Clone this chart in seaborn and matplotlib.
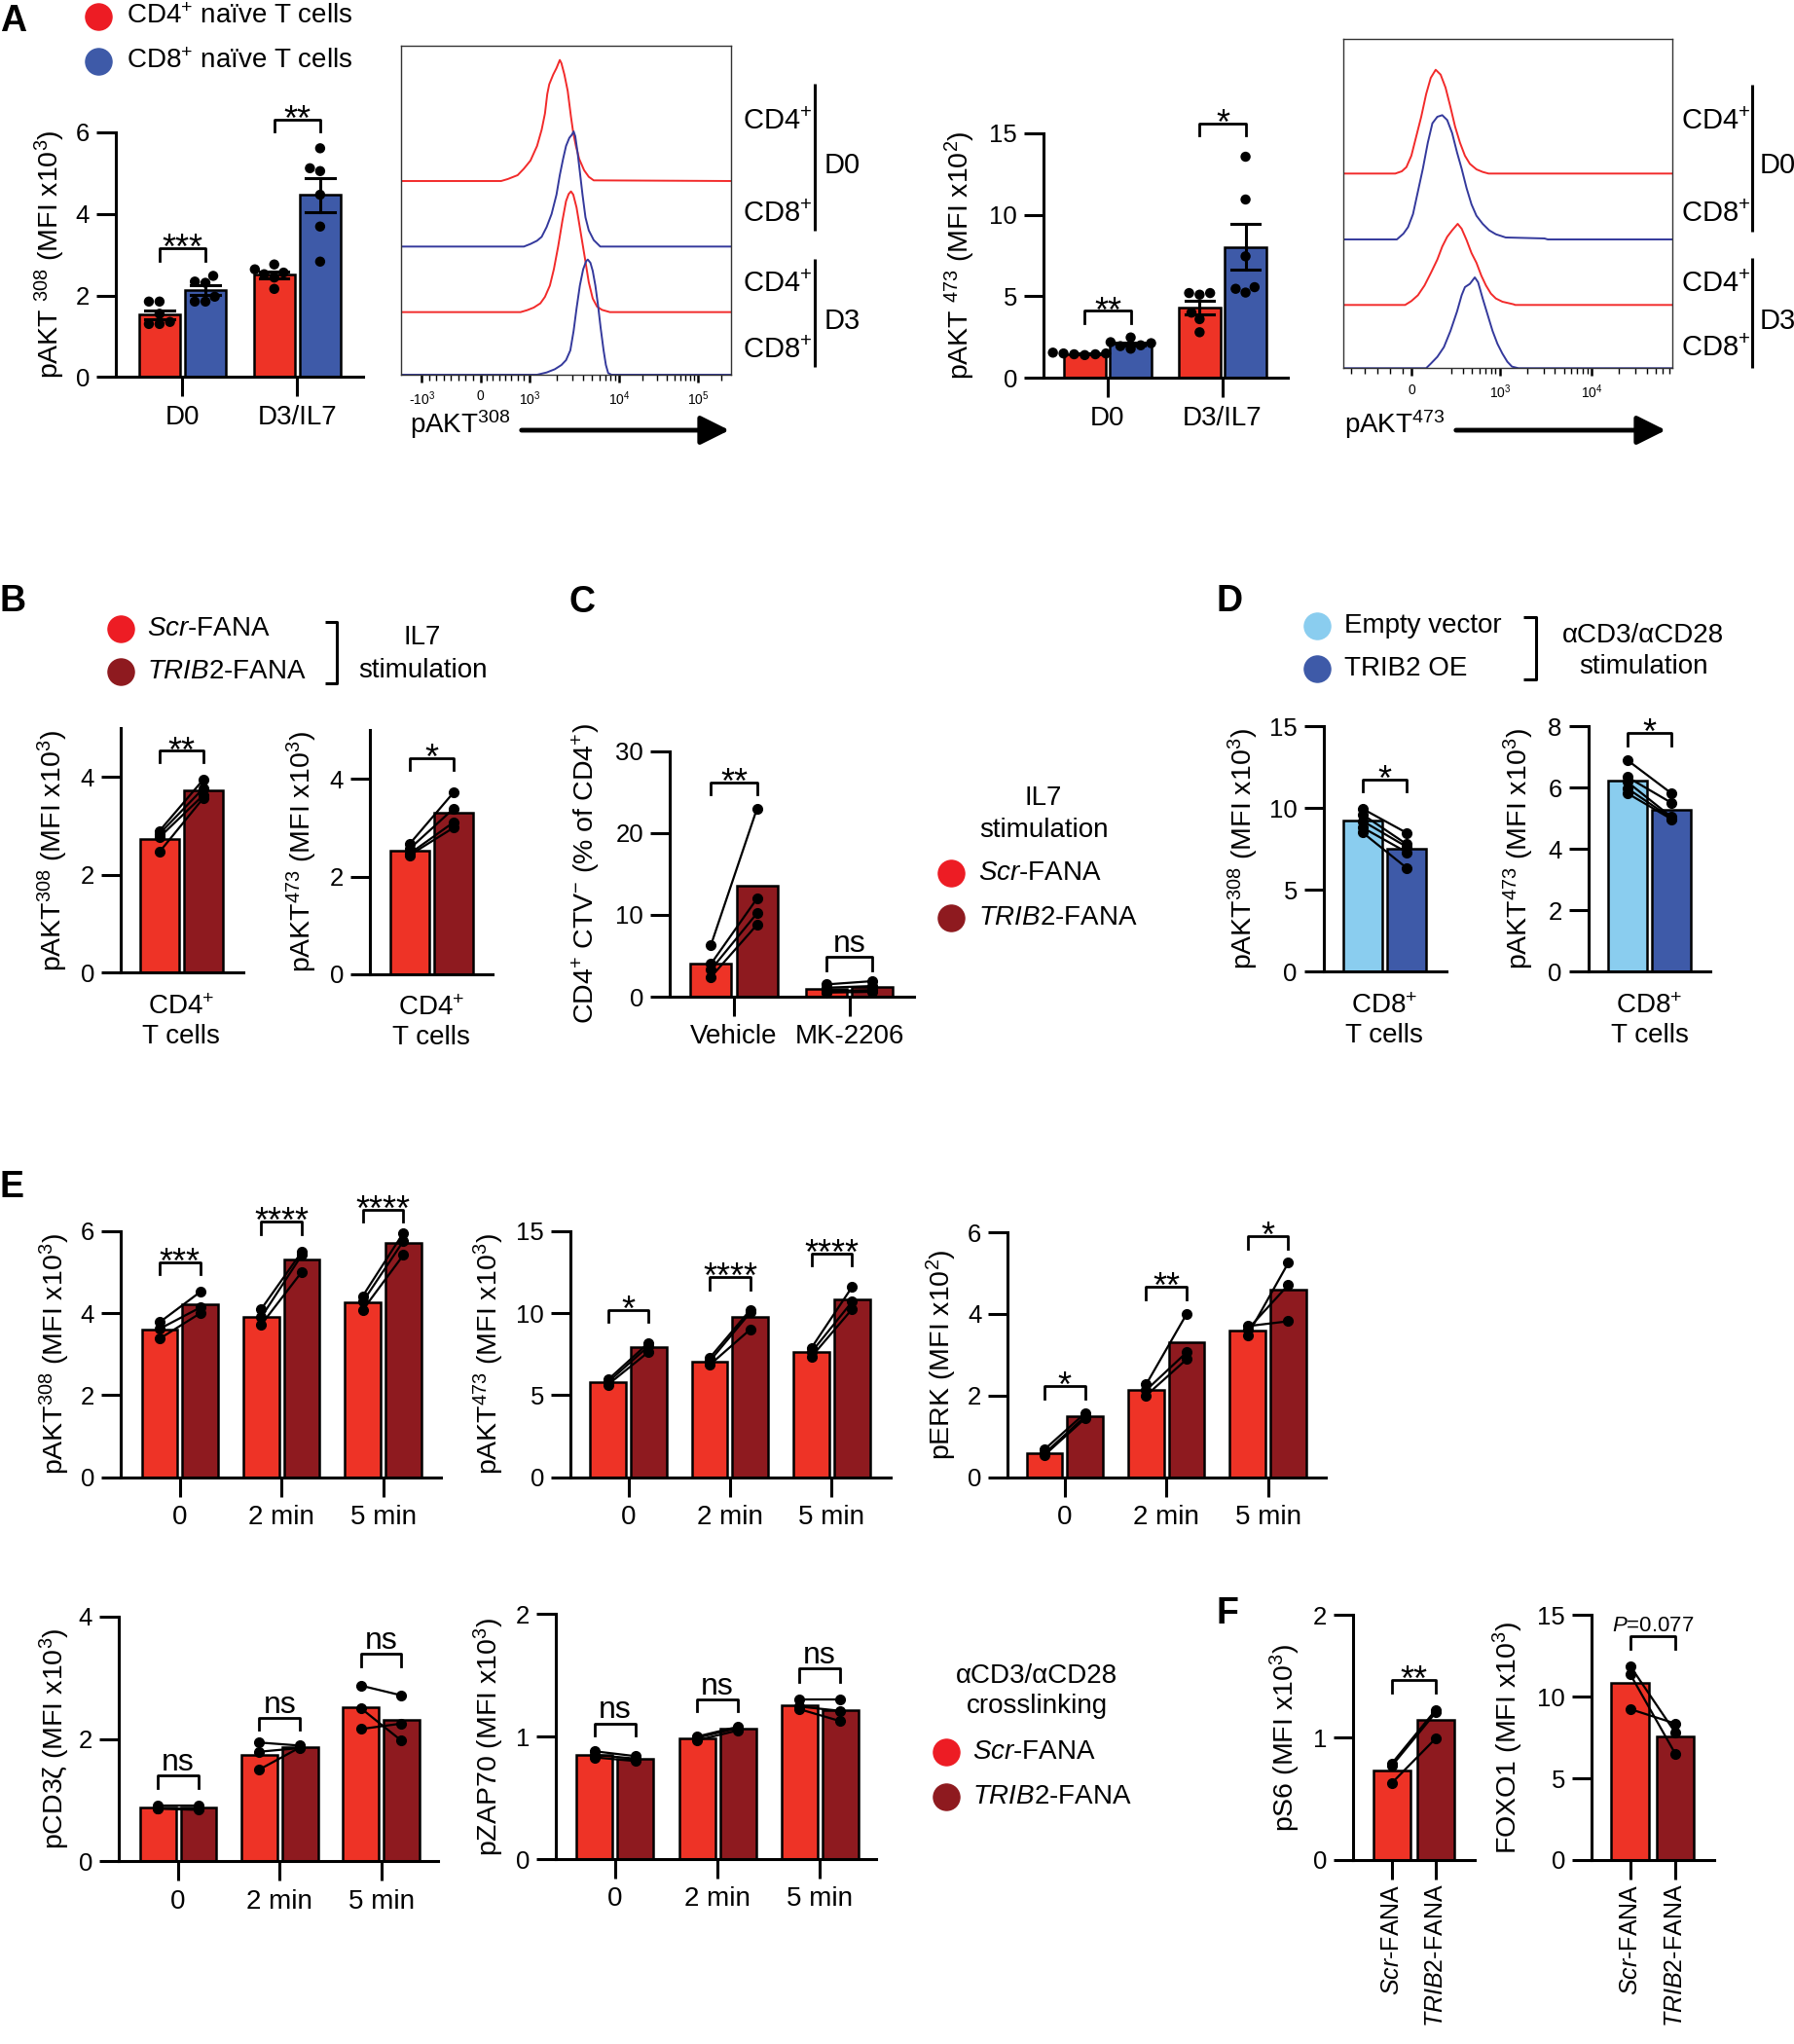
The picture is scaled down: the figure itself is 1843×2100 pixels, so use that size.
import numpy as np
import pandas as pd
import matplotlib
matplotlib.use("Agg")
import matplotlib.pyplot as plt
import seaborn as sns
from matplotlib.lines import Line2D
from matplotlib.patches import FancyArrowPatch

plt.rcParams["font.family"] = ["Liberation Sans", "DejaVu Sans"]
plt.rcParams["mathtext.fontset"] = "custom"
plt.rcParams["mathtext.rm"] = "Liberation Sans"
plt.rcParams["mathtext.it"] = "Liberation Sans:italic"
plt.rcParams["mathtext.bf"] = "Liberation Sans:bold"
plt.rcParams["mathtext.default"] = "regular"

# ---------------- data ----------------
# A: bar charts, 6 donors
a_groups = ["D0", "D3/IL7"]
a_cells = ["CD4", "CD8"]
a308_cd4 = [[1.85, 1.85, 1.55, 1.35, 1.30, 1.30], [2.64, 2.76, 2.56, 2.44, 2.16, 2.52]]
a308_cd8 = [[2.48, 2.34, 2.31, 1.85, 1.97, 1.85], [5.61, 5.12, 5.05, 4.47, 3.69, 2.83]]
a473_cd4 = [[1.55, 1.50, 1.50, 1.45, 1.45, 1.40], [5.20, 5.10, 5.20, 4.00, 3.60, 2.80]]
a473_cd8 = [[2.19, 2.13, 2.48, 1.79, 2.00, 1.95], [13.55, 10.93, 7.45, 5.23, 5.56, 5.46]]

# A: flow histograms (x in display channels 0-1000, h = height above each trace baseline)
h308_x = [[0, 303, 323, 353, 372, 392, 412, 426, 436, 443, 449, 461, 471, 481, 486, 495, 505, 515, 522, 530, 540, 555, 569, 584, 1000],
          [0, 372, 392, 412, 426, 441, 456, 471, 481, 491, 500, 510, 518, 523, 528, 535, 542, 550, 559, 569, 584, 599, 604, 1000],
          [0, 362, 382, 402, 422, 436, 451, 463, 476, 489, 500, 508, 515, 522, 532, 545, 558, 569, 581, 594, 609, 633, 1000],
          [0, 412, 441, 466, 486, 500, 513, 523, 532, 542, 552, 561, 566, 574, 581, 589, 597, 605, 614, 621, 628, 638, 1000]]
h308_h = [[0, 0, 6, 18, 38, 63, 108, 158, 208, 268, 298, 328, 348, 373, 363, 328, 278, 198, 148, 108, 68, 33, 13, 2, 0],
          [0, 0, 8, 18, 30, 60, 100, 160, 220, 270, 310, 335, 345, 355, 340, 290, 230, 160, 90, 50, 20, 5, 0, 0],
          [0, 0, 6, 14, 27, 47, 82, 132, 202, 282, 342, 364, 372, 362, 322, 242, 162, 92, 42, 17, 7, 0, 0],
          [0, 0, 7, 17, 30, 45, 75, 135, 205, 275, 325, 350, 355, 345, 320, 275, 215, 145, 75, 30, 5, 0, 0]]
h473_x = [[0, 158, 178, 192, 207, 222, 237, 252, 266, 281, 296, 311, 326, 340, 355, 370, 385, 405, 424, 442, 1000],
          [0, 163, 183, 197, 212, 227, 242, 257, 271, 286, 301, 316, 331, 346, 360, 375, 390, 405, 424, 444, 464, 494, 612, 622, 1000],
          [0, 188, 207, 227, 247, 267, 286, 301, 316, 331, 348, 360, 375, 390, 405, 420, 434, 449, 464, 484, 518, 523, 1000],
          [0, 252, 267, 286, 306, 326, 346, 360, 370, 385, 400, 410, 424, 439, 454, 469, 484, 499, 513, 533, 1000]]
h473_h = [[0, 0, 7, 20, 55, 115, 175, 245, 295, 320, 305, 265, 205, 145, 95, 55, 30, 13, 5, 0, 0],
          [0, 0, 18, 38, 78, 148, 218, 298, 358, 378, 383, 368, 328, 268, 218, 158, 108, 73, 48, 28, 16, 6, 3, 0, 0],
          [0, 0, 12, 30, 60, 100, 140, 180, 210, 230, 250, 235, 200, 160, 130, 90, 60, 35, 20, 10, 2, 0, 0],
          [0, 0, 15, 35, 65, 115, 175, 225, 250, 260, 280, 265, 215, 165, 115, 75, 45, 20, 5, 0, 0]]
hist_tracks = ["CD4$^{+}$", "CD8$^{+}$", "CD4$^{+}$", "CD8$^{+}$"]
h308_ticks = [62, 240, 390, 661, 900]
h308_ticklabels = ["-10$^{3}$", "0", "10$^{3}$", "10$^{4}$", "10$^{5}$"]
h473_ticks = [207, 476, 755]
h473_ticklabels = ["0", "10$^{3}$", "10$^{4}$"]

# B
fana = ["Scr-FANA", "TRIB2-FANA"]
b_cond = ["CD4$^{+}$\nT cells"]
b308_scr = [2.47, 2.77, 2.84, 2.90]
b308_trib = [3.57, 3.63, 3.77, 3.95]
b473_scr = [2.44, 2.47, 2.57, 2.67]
b473_trib = [3.00, 3.11, 3.39, 3.72]

# C
c_cond = ["Vehicle", "MK-2206"]
c_scr = [[6.3, 4.0, 3.3, 2.4], [1.5, 1.1, 0.7, 0.5]]
c_trib = [[23.0, 12.0, 10.2, 8.8], [1.9, 1.3, 0.8, 0.6]]

# D
d_groups = ["Empty vector", "TRIB2 OE"]
d_cond = ["CD8$^{+}$\nT cells"]
d308_ev = [9.95, 9.6, 9.2, 8.8, 8.5]
d308_oe = [8.48, 7.79, 7.63, 7.3, 6.34]
d473_ev = [6.89, 6.34, 6.18, 5.97, 5.81]
d473_oe = [5.81, 5.5, 5.04, 5.0, 4.97]

# E
e_time = ["0", "2 min", "5 min"]
e308_scr = [[3.78, 3.62, 3.38], [4.10, 3.90, 3.72], [4.42, 4.28, 4.08]]
e308_trib = [[4.52, 4.14, 4.00], [5.50, 5.42, 5.01], [5.96, 5.76, 5.42]]
e473_scr = [[5.95, 5.80, 5.65], [7.28, 7.08, 6.85], [7.88, 7.62, 7.34]]
e473_trib = [[8.20, 8.00, 7.65], [10.21, 10.05, 9.02], [11.60, 10.70, 10.25]]
eerk_scr = [[0.68, 0.58, 0.54], [2.27, 2.13, 2.00], [3.70, 3.62, 3.48]]
eerk_trib = [[1.57, 1.49, 1.44], [4.00, 3.06, 2.89], [3.82, 4.71, 5.25]]
ecd3_scr = [[0.91, 0.87, 0.86], [1.94, 1.79, 1.50], [2.87, 2.50, 2.16]]
ecd3_trib = [[0.91, 0.87, 0.84], [1.89, 1.85, 1.86], [2.71, 1.97, 2.25]]
ezap_scr = [[0.88, 0.85, 0.83], [1.00, 0.99, 0.97], [1.30, 1.245, 1.224]]
ezap_trib = [[0.84, 0.82, 0.80], [1.08, 1.07, 1.05], [1.30, 1.21, 1.126]]

# F
f_labels = ["$\\mathit{Scr}$-FANA", "$\\mathit{TRIB2}$-FANA"]
fs6_scr = [0.79, 0.77, 0.63]
fs6_trib = [1.226, 1.205, 0.993]
ffoxo_scr = [11.88, 11.38, 9.24]
ffoxo_trib = [7.81, 6.52, 8.36]

# significance brackets: (label, top, leg) per category
a308_sig = [("***", 3.16, 2.84), ("**", 6.32, 6.02)]
a473_sig = [("**", 4.11, 3.38), ("*", 15.56, 14.84)]
b308_sig = [("**", 4.54, 4.31)]
b473_sig = [("*", 4.42, 4.18)]
c_sig = [("**", 26.2, 24.7), ("ns", 4.84, 3.25)]
d308_sig = [("*", 11.75, 11.04)]
d473_sig = [("*", 7.77, 7.37)]
e308_sig = [("***", 5.25, 4.95), ("****", 6.24, 5.92), ("****", 6.53, 6.24)]
e473_sig = [("*", 10.21, 9.46), ("****", 12.19, 11.44), ("****", 13.65, 12.92)]
eerk_sig = [("*", 2.23, 1.92), ("**", 4.66, 4.36), ("*", 5.9, 5.59)]
ecd3_sig = [("ns", 1.40, 1.20), ("ns", 2.34, 2.15), ("ns", 3.39, 3.19)]
ezap_sig = [("ns", 1.107, 1.007), ("ns", 1.30, 1.205), ("ns", 1.555, 1.45)]
f_sig = [("**", 1.47, 1.37), ("$\\mathit{P}$=0.077", 13.7, 12.93)]

RED = "#EE3326"
DRED = "#8E1A1F"
BLUE = "#3E5AA8"
LBLUE = "#8ACDEF"
HRED = "#F22A2A"
HBLUE = "#34399C"

FS_TICK = 18.5
FS_CAT = 20
FS_YLAB = 20.5
FS_LEG = 20
FS_LETTER = 27

W, H = 1843, 2100
fig = plt.figure(figsize=(W / 100, H / 100), dpi=100)


def axes_px(left, right, top, bottom):
    return fig.add_axes([left / W, 1 - bottom / H, (right - left) / W, (bottom - top) / H])


def ftext(x, y, s, **kw):
    kw.setdefault("fontsize", FS_LEG)
    kw.setdefault("va", "center")
    fig.text(x / W, 1 - y / H, s, **kw)


def fline(xs, ys, lw=2.2):
    fig.add_artist(Line2D([x / W for x in xs], [1 - y / H for y in ys], color="k", lw=lw,
                          transform=fig.transFigure, solid_capstyle="butt"))


def fdot(x, y, color):
    fig.add_artist(Line2D([x / W], [1 - y / H], marker="o", ms=19.5, color=color, ls="none",
                          transform=fig.transFigure))


def style_axes(ax, ylim, yticks, xlim, xlen=14.4, xpad=6):
    ax.set_ylim(ylim)
    ax.set_yticks(yticks)
    ax.set_xlim(xlim)
    ax.spines[["top", "right"]].set_visible(False)
    ax.spines[["left", "bottom"]].set_linewidth(2.2)
    ax.tick_params(axis="y", length=14.4, width=2.2, labelsize=FS_TICK, pad=5)
    ax.tick_params(axis="x", length=xlen, width=2.2, labelsize=FS_CAT, pad=xpad)
    ax.set_xlabel("")
    ax.set_facecolor("none")


def ylab(ax, text, xc, left, right):
    ax.set_ylabel(text, fontsize=FS_YLAB)
    ax.yaxis.label.set_va("center")
    ax.yaxis.set_label_coords((xc - left) / (right - left), 0.5)


def brackets(ax, sig, x1s, x2s):
    for (lab, top, leg), x1, x2 in zip(sig, x1s, x2s):
        ax.plot([x1, x1, x2, x2], [leg, top, top, leg], color="k", lw=2, clip_on=False)
        if "*" in lab:
            ax.annotate(lab, ((x1 + x2) / 2, top), xytext=(0, -8), textcoords="offset points",
                        ha="center", va="baseline", fontsize=26, annotation_clip=False)
        elif lab == "ns":
            ax.annotate(lab, ((x1 + x2) / 2, top), xytext=(0, 4), textcoords="offset points",
                        ha="center", va="baseline", fontsize=23, annotation_clip=False)
        else:
            ax.annotate(lab, ((x1 + x2) / 2, top), xytext=(0, 4), textcoords="offset points",
                        ha="center", va="baseline", fontsize=16, annotation_clip=False)


def long_df(conds, first, second, names):
    rows = []
    for c, a, b in zip(conds, first, second):
        rows += [(c, names[0], v) for v in a]
        rows += [(c, names[1], v) for v in b]
    return pd.DataFrame(rows, columns=["cond", "grp", "val"])


def group_panel(ax, conds, first, second, palette):
    df = long_df(conds, first, second, a_cells)
    sns.barplot(data=df, x="cond", y="val", hue="grp", order=conds, hue_order=a_cells,
                palette=palette, saturation=1, errorbar="se", capsize=0.5, width=0.8, gap=0.1,
                edgecolor="k", linewidth=1.8, err_kws={"color": "k", "linewidth": 2.2},
                legend=False, ax=ax)
    sns.swarmplot(data=df, x="cond", y="val", hue="grp", order=conds, hue_order=a_cells,
                  dodge=True, palette=["k", "k"], size=7.5, legend=False, ax=ax, zorder=4)


def paired_panel(ax, conds, first, second, names, palette):
    df = long_df(conds, first, second, names)
    sns.barplot(data=df, x="cond", y="val", hue="grp", order=conds, hue_order=names,
                palette=palette, saturation=1, errorbar=None, width=0.8, gap=0.12,
                edgecolor="k", linewidth=1.8, legend=False, ax=ax)
    for i, (a, b) in enumerate(zip(first, second)):
        for va, vb in zip(a, b):
            ax.plot([i - 0.2, i + 0.2], [va, vb], color="k", lw=1.6, marker="o", ms=7,
                    clip_on=False, zorder=5)


def f_panel(ax, first, second):
    df = pd.DataFrame({"grp": [fana[0]] * len(first) + [fana[1]] * len(second),
                       "val": first + second})
    sns.barplot(data=df, x="grp", y="val", hue="grp", order=fana, hue_order=fana,
                palette=[RED, DRED], saturation=1, errorbar=None, width=0.84, edgecolor="k",
                linewidth=1.8, legend=False, ax=ax)
    for va, vb in zip(first, second):
        ax.plot([0, 1], [va, vb], color="k", lw=1.6, marker="o", ms=7, clip_on=False, zorder=5)


def hist_panel(ax, xs, hs, offsets, ticks, ticklabels, minor, ytop):
    colors = [HRED, HBLUE, HRED, HBLUE]
    for x, h, off, col in zip(xs, hs, offsets, colors):
        ax.plot(x, np.array(h) + off, color=col, lw=1.4)
    ax.set_xlim(0, 1000)
    ax.set_ylim(0, ytop)
    ax.set_yticks([])
    ax.set_xticks(ticks)
    ax.set_xticklabels(ticklabels)
    ax.set_xticks(minor, minor=True)
    for s in ax.spines.values():
        s.set_linewidth(1.0)
        s.set_color("#333333")
    ax.tick_params(axis="x", which="major", length=6, width=1.8, labelsize=10, pad=5)
    ax.tick_params(axis="x", which="minor", length=4, width=1.0)


# ================= Panel A =================
ftext(0, 22, "A", fontsize=FS_LETTER, fontweight="bold")
fdot(101, 17, "#ED1C24")
ftext(130, 17, "CD4$^{+}$ naïve T cells")
fdot(101, 63, BLUE)
ftext(130, 63, "CD8$^{+}$ naïve T cells")

ax = axes_px(119, 372.6, 136, 387.3)
group_panel(ax, a_groups, a308_cd4, a308_cd8, [RED, BLUE])
style_axes(ax, (0, 6), [0, 2, 4, 6], (-0.581, 1.571))
brackets(ax, a308_sig, [-0.2, 0.8], [0.2, 1.2])
ylab(ax, "pAKT ${}^{308}$ (MFI x10$^{3}$)", 51, 119, 372.6)

ax = axes_px(1072, 1323, 136.7, 388.3)
group_panel(ax, a_groups, a473_cd4, a473_cd8, [RED, BLUE])
style_axes(ax, (0, 15), [0, 5, 10, 15], (-0.559, 1.568))
brackets(ax, a473_sig, [-0.2, 0.8], [0.2, 1.2])
ylab(ax, "pAKT ${}^{473}$ (MFI x10$^{2}$)", 986, 1072, 1323)

# histograms
minor308 = list(np.linspace(62, 240, 9)[1:-1]) + list(np.linspace(240, 390, 9)[1:-1]) \
    + [390 + 271 * np.log10(k) for k in range(2, 10)] + [661 + 239 * np.log10(k) for k in range(2, 10)] \
    + [900 + 239 * np.log10(k) for k in range(2, 3)]
ax = axes_px(412.3, 750.7, 47.3, 385)
hist_panel(ax, h308_x, h308_h, [597, 395, 193, 0], h308_ticks, h308_ticklabels, minor308, 1013)

minor473 = list(np.arange(25, 200, 39)) + [476 + 279 * np.log10(k / 10) for k in range(3, 10)] \
    + [476 + 279 * np.log10(k) for k in range(2, 10)] + [755 + 279 * np.log10(k) for k in range(2, 8)]
ax = axes_px(1380, 1717.7, 40, 378.3)
hist_panel(ax, h473_x, h473_h, [600, 397, 195, 0], h473_ticks, h473_ticklabels, minor473, 1015)

for x0, lx, dx, ys, seg1, seg2 in [(763, 837, 847, [125, 220, 292, 360], (86, 237), (266, 377)),
                                   (1727, 1800, 1808, [125, 220, 292, 358], (87, 238), (265, 378))]:
    for name, y in zip(hist_tracks, ys):
        ftext(x0, y, name, fontsize=21)
    fline([lx, lx], list(seg1), lw=2.2)
    fline([lx, lx], list(seg2), lw=2.2)
    ftext(dx, 170, "D0", fontsize=21)
    ftext(dx, 330, "D3", fontsize=21)

ftext(421, 436, "pAKT$^{308}$", fontsize=20)
ftext(1381, 436, "pAKT$^{473}$", fontsize=20)
for x1, x2 in [(533, 752), (1493, 1714)]:
    fig.add_artist(FancyArrowPatch((x1 / W, 1 - 442 / H), (x2 / W, 1 - 442 / H),
                                   transform=fig.transFigure, arrowstyle="-|>",
                                   mutation_scale=45, lw=3.5, color="k"))

# ================= Panel B =================
ftext(0, 618, "B", fontsize=FS_LETTER, fontweight="bold")
fdot(124, 646, "#ED1C24")
ftext(151, 646, "$\\mathit{Scr}$-FANA")
fdot(124, 690, DRED)
ftext(151, 690, "$\\mathit{TRIB2}$-FANA")
fline([334, 346, 346, 334], [639, 639, 702, 702])
ftext(434, 655, "IL7", ha="center")
ftext(434, 689, "stimulation", ha="center")

ax = axes_px(124, 249.5, 748.3, 999.3)
paired_panel(ax, b_cond, [b308_scr], [b308_trib], fana, [RED, DRED])
style_axes(ax, (0, 5), [0, 2, 4], (-0.554, 0.562), xlen=0, xpad=16)
brackets(ax, b308_sig, [-0.2], [0.2])
ylab(ax, "pAKT$^{308}$ (MFI x10$^{3}$)", 54, 124, 249.5)

ax = axes_px(380, 506, 750, 1001)
paired_panel(ax, b_cond, [b473_scr], [b473_trib], fana, [RED, DRED])
style_axes(ax, (0, 5), [0, 2, 4], (-0.563, 0.556), xlen=0, xpad=16)
brackets(ax, b473_sig, [-0.2], [0.2])
ylab(ax, "pAKT$^{473}$ (MFI x10$^{3}$)", 310, 380, 506)

# ================= Panel C =================
ftext(585, 619, "C", fontsize=FS_LETTER, fontweight="bold")
ax = axes_px(688, 939, 771.7, 1024)
paired_panel(ax, c_cond, c_scr, c_trib, fana, [RED, DRED])
style_axes(ax, (0, 30), [0, 10, 20, 30], (-0.557, 1.56))
brackets(ax, c_sig, [-0.2, 0.8], [0.2, 1.2])
ylab(ax, "CD4$^{+}$ CTV$^{-}$ (% of CD4$^{+}$)", 602, 688, 939)

ftext(1072, 820, "IL7", ha="center")
ftext(1072, 853, "stimulation", ha="center")
fdot(977, 897, "#ED1C24")
ftext(1005, 897, "$\\mathit{Scr}$-FANA")
fdot(977, 943, DRED)
ftext(1005, 943, "$\\mathit{TRIB2}$-FANA")

# ================= Panel D =================
ftext(1250, 618, "D", fontsize=FS_LETTER, fontweight="bold")
fdot(1353, 643, LBLUE)
ftext(1381, 643, "Empty vector")
fdot(1353, 687, BLUE)
ftext(1381, 687, "TRIB2 OE")
fline([1565, 1578, 1578, 1565], [634, 634, 698, 698])
ftext(1688, 653, "αCD3/αCD28", ha="center")
ftext(1688, 685, "stimulation", ha="center")

ax = axes_px(1359.8, 1485.8, 746, 998.3)
paired_panel(ax, d_cond, [d308_ev], [d308_oe], d_groups, [LBLUE, BLUE])
style_axes(ax, (0, 15), [0, 5, 10, 15], (-0.554, 0.561), xlen=0, xpad=16)
brackets(ax, d308_sig, [-0.2], [0.2])
ylab(ax, "pAKT$^{308}$ (MFI x10$^{3}$)", 1277, 1359.8, 1485.8)

ax = axes_px(1631.5, 1757, 746, 998.3)
paired_panel(ax, d_cond, [d473_ev], [d473_oe], d_groups, [LBLUE, BLUE])
style_axes(ax, (0, 8), [0, 2, 4, 6, 8], (-0.557, 0.553), xlen=0, xpad=16)
brackets(ax, d473_sig, [-0.2], [0.2])
ylab(ax, "pAKT$^{473}$ (MFI x10$^{3}$)", 1560, 1631.5, 1757)

# ================= Panel E =================
ftext(0, 1220, "E", fontsize=FS_LETTER, fontweight="bold")
e_specs = [
    ((124, 453, 1265, 1517.7), e308_scr, e308_trib, e308_sig, (0, 6), [0, 2, 4, 6], (-0.583, 2.57),
     "pAKT$^{308}$ (MFI x10$^{3}$)", 56),
    ((586, 915, 1265, 1517.7), e473_scr, e473_trib, e473_sig, (0, 15), [0, 5, 10, 15], (-0.57, 2.58),
     "pAKT$^{473}$ (MFI x10$^{3}$)", 502),
    ((1035.4, 1361.7, 1266, 1517.7), eerk_scr, eerk_trib, eerk_sig, (0, 6), [0, 2, 4, 6], (-0.56, 2.566),
     "pERK (MFI x10$^{2}$)", 967),
    ((122, 450, 1660.7, 1912.3), ecd3_scr, ecd3_trib, ecd3_sig, (0, 4), [0, 2, 4], (-0.585, 2.56),
     "pCD3ζ (MFI x10$^{3}$)", 56),
    ((571, 900, 1658.3, 1910), ezap_scr, ezap_trib, ezap_sig, (0, 2), [0, 1, 2], (-0.58, 2.55),
     "pZAP70 (MFI x10$^{3}$)", 502),
]
for (l, r, t, b), s1, s2, sig, yl, yt, xl, lab, lx in e_specs:
    ax = axes_px(l, r, t, b)
    paired_panel(ax, e_time, s1, s2, fana, [RED, DRED])
    style_axes(ax, yl, yt, xl)
    brackets(ax, sig, [-0.2, 0.8, 1.8], [0.2, 1.2, 2.2])
    ylab(ax, lab, lx, l, r)

ftext(1065, 1722, "αCD3/αCD28", ha="center")
ftext(1065, 1753, "crosslinking", ha="center")
fdot(972, 1800, "#ED1C24")
ftext(999, 1800, "$\\mathit{Scr}$-FANA")
fdot(972, 1846, DRED)
ftext(999, 1846, "$\\mathit{TRIB2}$-FANA")

# ================= Panel F =================
ftext(1250, 1658, "F", fontsize=FS_LETTER, fontweight="bold")
f_specs = [((1390.4, 1515), fs6_scr, fs6_trib, (0, 2), [0, 1, 2], (-0.88, 1.89),
            "pS6 (MFI x10$^{3}$)", 1320),
           ((1635, 1760.7), ffoxo_scr, ffoxo_trib, (0, 15), [0, 5, 10, 15], (-0.86, 1.86),
            "FOXO1 (MFI x10$^{3}$)", 1549)]
for ((l, r), s1, s2, yl, yt, xl, lab, lx), sig in zip(f_specs, f_sig):
    ax = axes_px(l, r, 1659.3, 1911)
    f_panel(ax, s1, s2)
    style_axes(ax, yl, yt, xl, xpad=3)
    ax.set_xticks([0, 1])
    ax.set_xticklabels(f_labels, rotation=90, fontsize=18)
    brackets(ax, [sig], [0], [1])
    ylab(ax, lab, lx, l, r)

fig.savefig("out.png", dpi=100)
